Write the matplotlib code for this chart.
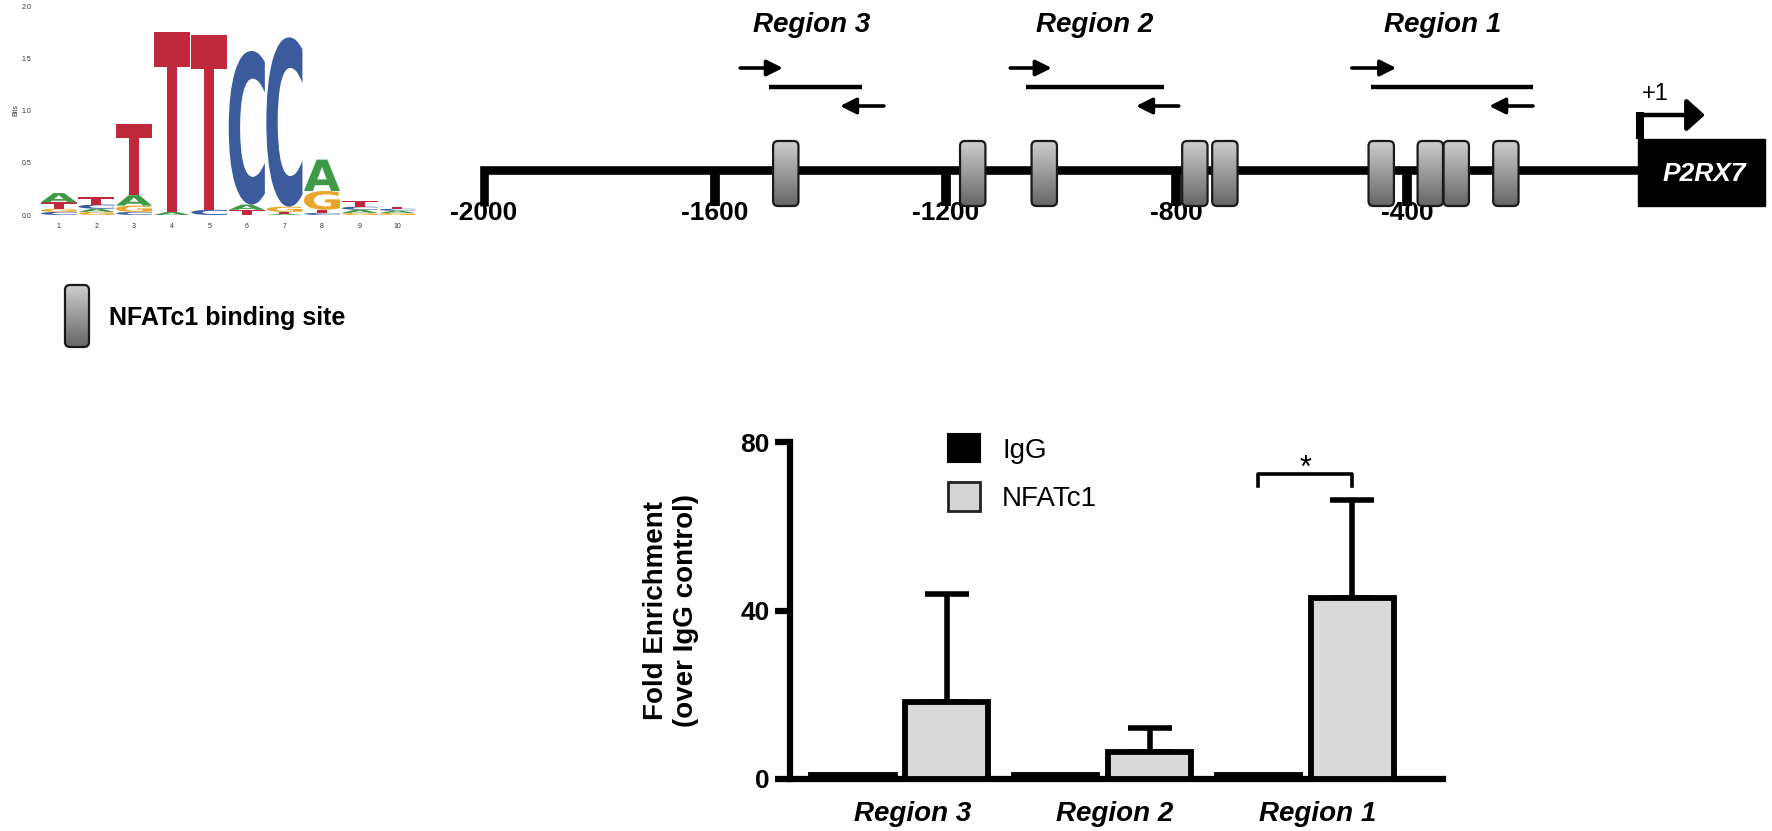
import numpy as np
import matplotlib
matplotlib.use('Agg')
import matplotlib.pyplot as plt
from matplotlib.patches import FancyBboxPatch, Rectangle, PathPatch, Patch
from matplotlib.textpath import TextPath
from matplotlib.font_manager import FontProperties
from matplotlib.transforms import Affine2D
from matplotlib.colors import LinearSegmentedColormap

plt.rcParams['font.family'] = ['Liberation Sans', 'DejaVu Sans']

W, H = 1772, 831

# motif logo: (letter, bits) stacked bottom -> top for positions 1..10
logo_pos = list(range(1, 11))
logo_stacks = [
    [('C', 0.03), ('G', 0.03), ('T', 0.06), ('A', 0.09)],
    [('G', 0.03), ('A', 0.03), ('C', 0.04), ('T', 0.07)],
    [('C', 0.03), ('G', 0.06), ('A', 0.10), ('T', 0.68)],
    [('A', 0.03), ('T', 1.72)],
    [('C', 0.05), ('T', 1.67)],
    [('T', 0.05), ('A', 0.05), ('C', 1.47)],
    [('A', 0.01), ('T', 0.02), ('G', 0.05), ('C', 1.62)],
    [('C', 0.02), ('T', 0.03), ('G', 0.18), ('A', 0.30)],
    [('G', 0.02), ('A', 0.03), ('C', 0.03), ('T', 0.05)],
    [('G', 0.02), ('A', 0.02), ('C', 0.02), ('T', 0.02)],
]
logo_colors = {'A': '#3d9a47', 'C': '#3b5b9d', 'G': '#e9a62d', 'T': '#c0283b'}

# promoter map (bp relative to TSS)
map_ticks = [-2000, -1600, -1200, -800, -400]
site_bp = [-1477, -1153, -1029, -768, -716, -445, -360, -315, -229]
regions = ['Region 3', 'Region 2', 'Region 1']
fwd_start = [-1556, -1088, -496]
fwd_end = [-1482, -1016, -419]
amp_start = [-1506, -1061, -463]
amp_end = [-1345, -822, -182]
rev_start = [-1307, -796, -182]
rev_end = [-1383, -870, -258]
gene_end = 220

# ChIP-qPCR
igg_vals = [1.0, 1.0, 1.0]
nfat_vals = [18.3, 6.4, 43.0]
nfat_err = [25.5, 5.7, 23.2]

fig = plt.figure(figsize=(W / 100, H / 100), dpi=100)

site_cmap = LinearSegmentedColormap.from_list('site', ['#cdcdcd', '#666666'])
grad = np.linspace(0, 1, 64).reshape(-1, 1)


def site_box(ax, xc, y_top, y_bot, w, r, asp):
    box = FancyBboxPatch((xc - w / 2, y_top), w, y_bot - y_top,
                         boxstyle=f'round,pad=0,rounding_size={r}',
                         mutation_aspect=asp, fc='none', ec='#1a1a1a', lw=1.6, zorder=4)
    ax.add_patch(box)
    im = ax.imshow(grad, cmap=site_cmap, extent=(xc - w / 2, xc + w / 2, y_bot, y_top),
                   aspect='auto', origin='upper', zorder=3, interpolation='bilinear')
    im.set_clip_path(box)


# ---- sequence logo ----
ax_l = fig.add_axes([40 / W, 1 - 215 / H, 376 / W, 209 / H])
logo_font = FontProperties(family='DejaVu Sans', weight='bold')
for pos, stack in zip(logo_pos, logo_stacks):
    y = 0.0
    for ch, h in stack:
        tp = TextPath((0, 0), ch, size=1, prop=logo_font)
        bb = tp.get_extents()
        w = 0.96
        tr = Affine2D().translate(-bb.x0, -bb.y0).scale(w / bb.width, h / bb.height).translate(pos - w / 2, y)
        ax_l.add_patch(PathPatch(tr.transform_path(tp), fc=logo_colors[ch], ec='none'))
        y += h
ax_l.set_xlim(0.5, 10.5)
ax_l.set_ylim(0, 2)
ax_l.set_xticks(logo_pos)
ax_l.set_yticks([0, 0.5, 1.0, 1.5, 2.0])
ax_l.set_yticklabels(['0.0', '0.5', '1.0', '1.5', '2.0'])
ax_l.tick_params(length=0, labelsize=5, colors='#333333', pad=6)
ax_l.set_ylabel('Bits', fontsize=5, color='#333333', labelpad=2)
for s in ax_l.spines.values():
    s.set_visible(False)
ax_l.patch.set_alpha(0)

# ---- promoter map ----
px_bp = 0.577
x0_px = 484
ax_p = fig.add_axes([0, 1 - 260 / H, 1, 260 / H])
ax_p.axis('off')
y_line = 170
ax_p.plot([map_ticks[0], map_ticks[0], 0], [206, y_line, y_line], color='k', lw=6.2,
          solid_joinstyle='miter', solid_capstyle='butt', zorder=1)
ax_p.vlines(map_ticks[1:], y_line, 206, color='k', lw=7, zorder=1)
for t in map_ticks:
    ax_p.text(t, 213, str(t), ha='center', va='center', fontsize=19, fontweight='bold')
for s in site_bp:
    site_box(ax_p, s, 141, 206, 44, 8.5, px_bp)
ax_p.add_patch(Rectangle((0, 139), gene_end, 67, fc='k', ec='k', zorder=2))
ax_p.text(gene_end / 2 + 5, 174, 'P2RX7', ha='center', va='center', color='white',
          fontsize=19, fontweight='bold', fontstyle='italic', zorder=5)
ax_p.plot([4, 4], [139, 112], color='k', lw=5.8, solid_capstyle='butt')
ax_p.annotate('', xy=(116, 115), xytext=(0, 115),
              arrowprops=dict(arrowstyle='-|>,head_length=0.5,head_width=0.45', lw=3.2, color='k',
                              mutation_scale=22, shrinkA=0, shrinkB=0))
ax_p.text(7, 94, '+1', ha='left', va='center', fontsize=17)
for i, name in enumerate(regions):
    ax_p.annotate('', xy=(fwd_end[i], 68), xytext=(fwd_start[i], 68),
                  arrowprops=dict(arrowstyle='-|>,head_length=0.6,head_width=0.3', lw=2.6, color='k',
                                  mutation_scale=16, shrinkA=0, shrinkB=0))
    ax_p.plot([amp_start[i], amp_end[i]], [87, 87], color='k', lw=3.2, solid_capstyle='butt')
    ax_p.annotate('', xy=(rev_end[i], 106), xytext=(rev_start[i], 106),
                  arrowprops=dict(arrowstyle='-|>,head_length=0.6,head_width=0.3', lw=2.6, color='k',
                                  mutation_scale=16, shrinkA=0, shrinkB=0))
    ax_p.text((fwd_start[i] + rev_start[i]) / 2, 25, name, ha='center', va='center',
              fontsize=20, fontweight='bold', fontstyle='italic')
ax_p.set_xlim(-2000 - x0_px / px_bp, -2000 + (W - x0_px) / px_bp)
ax_p.set_ylim(260, 0)

# ---- site legend ----
ax_o = fig.add_axes([0, 0, 1, 1])
ax_o.axis('off')
site_box(ax_o, 77, 285, 347, 24, 5, 1)
ax_o.text(109, 318, 'NFATc1 binding site', ha='left', va='center', fontsize=18, fontweight='bold')
ax_o.set_xlim(0, W)
ax_o.set_ylim(H, 0)

# ---- bar chart ----
ax_b = fig.add_axes([790 / W, 1 - 779 / H, (1443 - 790) / W, (779 - 442) / H])
x = np.arange(len(regions))
bw = 0.41
off = 0.232
ax_b.bar(x - off, igg_vals, bw, color='k', edgecolor='k', lw=4.2, zorder=3)
ax_b.bar(x + off, nfat_vals, bw, color='#d9d9d9', edgecolor='k', lw=4.2, zorder=3)
ax_b.errorbar(x + off, nfat_vals, yerr=[np.zeros(3), nfat_err], fmt='none', ecolor='k',
              elinewidth=4.0, capsize=16, capthick=4.0, zorder=2)
# significance bracket on Region 1
ax_b.plot([2 - off, 2 - off, 2 + off, 2 + off], [69.6, 72.5, 72.5, 69.6], color='k', lw=2.6, clip_on=False)
ax_b.text(2, 73.5, '*', ha='center', va='center', fontsize=22)
ax_b.set_xlim(-0.543, 2.681)
ax_b.set_ylim(0, 80)
ax_b.set_yticks([0, 40, 80])
ax_b.set_yticklabels(['0', '40', '80'], fontsize=19, fontweight='bold')
ax_b.set_xticks(x + 0.06)
ax_b.set_xticklabels(regions, fontsize=20, fontweight='bold', fontstyle='italic')
ax_b.tick_params(axis='x', length=0, pad=16)
ax_b.tick_params(axis='y', length=11, width=4.5, pad=3.5)
for s in ['top', 'right']:
    ax_b.spines[s].set_visible(False)
for s in ['left', 'bottom']:
    ax_b.spines[s].set_linewidth(4.5)
ax_b.set_ylabel('Fold Enrichment\n(over IgG control)', fontsize=20, fontweight='bold', labelpad=30)
handles = [Patch(fc='k', ec='k', lw=1.5), Patch(fc='#d4d4d4', ec='#222222', lw=2)]
ax_b.legend(handles, ['IgG', 'NFATc1'], loc='upper left', bbox_to_anchor=(948 / W, 1 - 434 / H),
            bbox_transform=fig.transFigure, frameon=False, fontsize=20, handlelength=1.15,
            handleheight=1.2, handletextpad=0.8, labelspacing=0.68, borderaxespad=0, borderpad=0)

fig.savefig('out.png', dpi=100)
